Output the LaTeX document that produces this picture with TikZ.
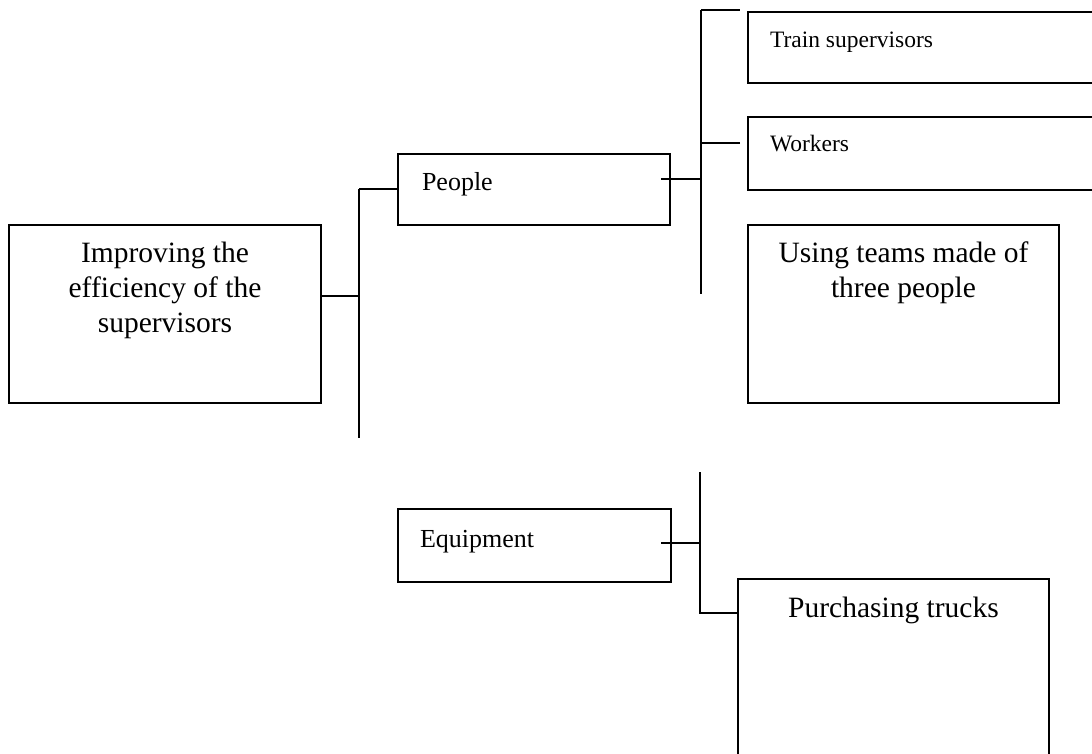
\documentclass[tikz,border=0pt]{standalone}
\usepackage{fontspec}
\setmainfont{Liberation Serif}
\tikzset{
  box/.style={draw, line width=1.6pt, inner sep=0pt, outer sep=0pt, anchor=north west},
  conn/.style={line width=1.6pt},
  lbl/.style={inner sep=0pt, outer sep=0pt, anchor=base west},
  bigtext/.style={inner sep=0pt, outer sep=0pt, anchor=base, align=center, font=\fontsize{29.5}{35}\selectfont},
  midtext/.style={lbl, font=\fontsize{26}{30}\selectfont},
  smalltext/.style={lbl, font=\fontsize{23.5}{27}\selectfont}
}
\begin{document}
\begin{tikzpicture}[x=1pt,y=-1pt]
\useasboundingbox (0,0) rectangle (1092,753);
\clip (0,0) rectangle (1092,753);
% boxes
\node[box, minimum width=312pt, minimum height=178pt] (main) at (9,225) {};
\node[box, minimum width=272pt, minimum height=71pt] (people) at (398,154) {};
\node[box, minimum width=360pt, minimum height=71pt] (train) at (748,12) {};
\node[box, minimum width=360pt, minimum height=73pt] (workers) at (748,117) {};
\node[box, minimum width=311pt, minimum height=178pt] (teams) at (748,225) {};
\node[box, minimum width=273pt, minimum height=73pt] (equip) at (398,509) {};
\node[box, minimum width=311pt, minimum height=200pt] (purch) at (738,579) {};
% texts (base anchor = baseline of the last line)
\node[bigtext] (tmain) at (165,332) {Improving the\\efficiency of the\\supervisors};
\node[midtext] (tpeople) at (422,190) {People};
\node[smalltext] (ttrain) at (770,47) {Train supervisors};
\node[smalltext] (tworkers) at (770,151) {Workers};
\node[bigtext] (tteams) at (903.5,297) {Using teams made of\\three people};
\node[midtext] (tequip) at (420,547) {Equipment};
\node[bigtext] (tpurch) at (893.5,617) {Purchasing trucks};
% connector coordinates
\coordinate (mainbus) at (359,296);
\coordinate (mainbustop) at (359,189);
\coordinate (mainbusbot) at (359,438);
\coordinate (pbusjoin) at (701,179);
\coordinate (pbustop) at (701,10);
\coordinate (pbusbot) at (701,294);
\coordinate (pstub) at (661,179);
\coordinate (trainstub) at (740,10);
\coordinate (workstub) at (740,143);
\coordinate (ebusjoin) at (700,543);
\coordinate (ebustop) at (700,472);
\coordinate (ebusbot) at (700,613);
\coordinate (estub) at (661,543);
% connectors
\draw[conn] (main.east |- mainbus) -- (mainbus);
\draw[conn] (mainbustop) -- (mainbusbot);
\draw[conn] (mainbustop) -- (people.west |- mainbustop);
\draw[conn] (pstub) -- (pbusjoin);
\draw[conn] (pbustop) -- (pbusbot);
\draw[conn] (pbustop) -- (trainstub);
\draw[conn] (workstub) -- (pbustop |- workstub);
\draw[conn] (estub) -- (ebusjoin);
\draw[conn] (ebustop) -- (ebusbot) -- (purch.west |- ebusbot);
\end{tikzpicture}
\end{document}
